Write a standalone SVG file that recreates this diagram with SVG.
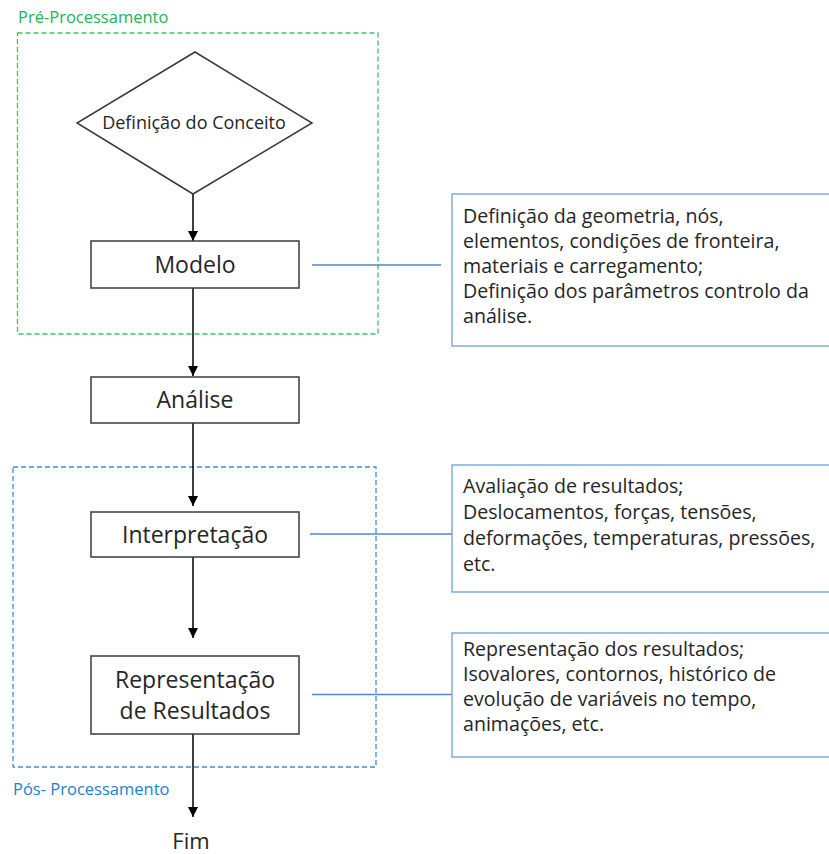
<svg xmlns="http://www.w3.org/2000/svg" width="829" height="854" viewBox="0 0 829 854">
<defs>
<marker id="arr" viewBox="0 0 10 10" refX="10" refY="5" markerWidth="10" markerHeight="10" markerUnits="userSpaceOnUse" orient="auto">
<path d="M0,0 L10,5 L0,10 Z" fill="#000"/>
</marker>
<style>
text{font-family:"Open Sans","Liberation Sans",sans-serif;fill:#262626}
.node{fill:#fff;stroke:#3a3a3a;stroke-width:1.5}
.lbl{font-size:23px;text-anchor:middle}
.note{fill:#fff;stroke:#6c9fdc;stroke-width:1.3}
.nt{font-size:19.6px}
.flow{stroke:#000;stroke-width:1.5;fill:none;marker-end:url(#arr)}
.link{stroke:#4f86d4;stroke-width:1.3;fill:none}
</style>
</defs>
<rect width="829" height="854" fill="#fff"/>

<g id="group-pre">
<rect x="17.5" y="33" width="360.5" height="301" fill="none" stroke="#3cc06a" stroke-width="1.3" stroke-dasharray="5 3"/>
<text x="18" y="23" style="font-size:16.5px;fill:#22b455">Pré-Processamento</text>
</g>
<g id="group-pos">
<rect x="13" y="467" width="363" height="300" fill="none" stroke="#3a8fd6" stroke-width="1.3" stroke-dasharray="5 3"/>
<text x="13" y="795" style="font-size:16.5px;fill:#2580cc">Pós- Processamento</text>
</g>

<g id="connectors">
<line class="flow" x1="193" y1="194" x2="193" y2="241"/>
<line class="flow" x1="193" y1="288" x2="193" y2="376"/>
<line class="flow" x1="193" y1="423" x2="193" y2="506"/>
<line class="flow" x1="193" y1="557" x2="193" y2="638"/>
<line class="flow" x1="193" y1="734" x2="193" y2="817"/>
<line class="link" x1="312" y1="265" x2="441" y2="265"/>
<line class="link" x1="310" y1="534" x2="452" y2="534"/>
<line class="link" x1="312" y1="694.5" x2="452" y2="694.5"/>
</g>

<g id="conceito">
<polygon points="195,52 312,123 193,194 77,123" fill="#fff" stroke="#3a3a3a" stroke-width="1.5"/>
<text x="194" y="129" style="font-size:18px;text-anchor:middle">Definição do Conceito</text>
</g>
<g id="modelo">
<rect class="node" x="91" y="241" width="208" height="47"/>
<text class="lbl" x="195" y="273">Modelo</text>
</g>
<g id="analise">
<rect class="node" x="91" y="377" width="208" height="46"/>
<text class="lbl" x="195" y="408">Análise</text>
</g>
<g id="interpretacao">
<rect class="node" x="91" y="512" width="208" height="45"/>
<text class="lbl" x="195" y="543">Interpretação</text>
</g>
<g id="representacao">
<rect class="node" x="91" y="656" width="208" height="78"/>
<text class="lbl" x="195" y="688">Representação</text>
<text class="lbl" x="195" y="719">de Resultados</text>
</g>
<g id="fim">
<text x="191" y="849" style="font-size:22px;text-anchor:middle">Fim</text>
</g>

<g id="note-modelo">
<rect class="note" x="452" y="194" width="390" height="152"/>
<text class="nt" x="463" y="223">Definição da geometria, nós,</text>
<text class="nt" x="463" y="248">elementos, condições de fronteira,</text>
<text class="nt" x="463" y="273">materiais e carregamento;</text>
<text class="nt" x="463" y="298">Definição dos parâmetros controlo da</text>
<text class="nt" x="463" y="323">análise.</text>
</g>
<g id="note-interpretacao">
<rect class="note" x="452" y="465" width="390" height="127"/>
<text class="nt" x="463" y="493">Avaliação de resultados;</text>
<text class="nt" x="463" y="519">Deslocamentos, forças, tensões,</text>
<text class="nt" x="463" y="545">deformações, temperaturas, pressões,</text>
<text class="nt" x="463" y="571">etc.</text>
</g>
<g id="note-representacao">
<rect class="note" x="452" y="633" width="390" height="124"/>
<text class="nt" x="463" y="656">Representação dos resultados;</text>
<text class="nt" x="463" y="681">Isovalores, contornos, histórico de</text>
<text class="nt" x="463" y="706">evolução de variáveis no tempo,</text>
<text class="nt" x="463" y="731">animações, etc.</text>
</g>
</svg>
